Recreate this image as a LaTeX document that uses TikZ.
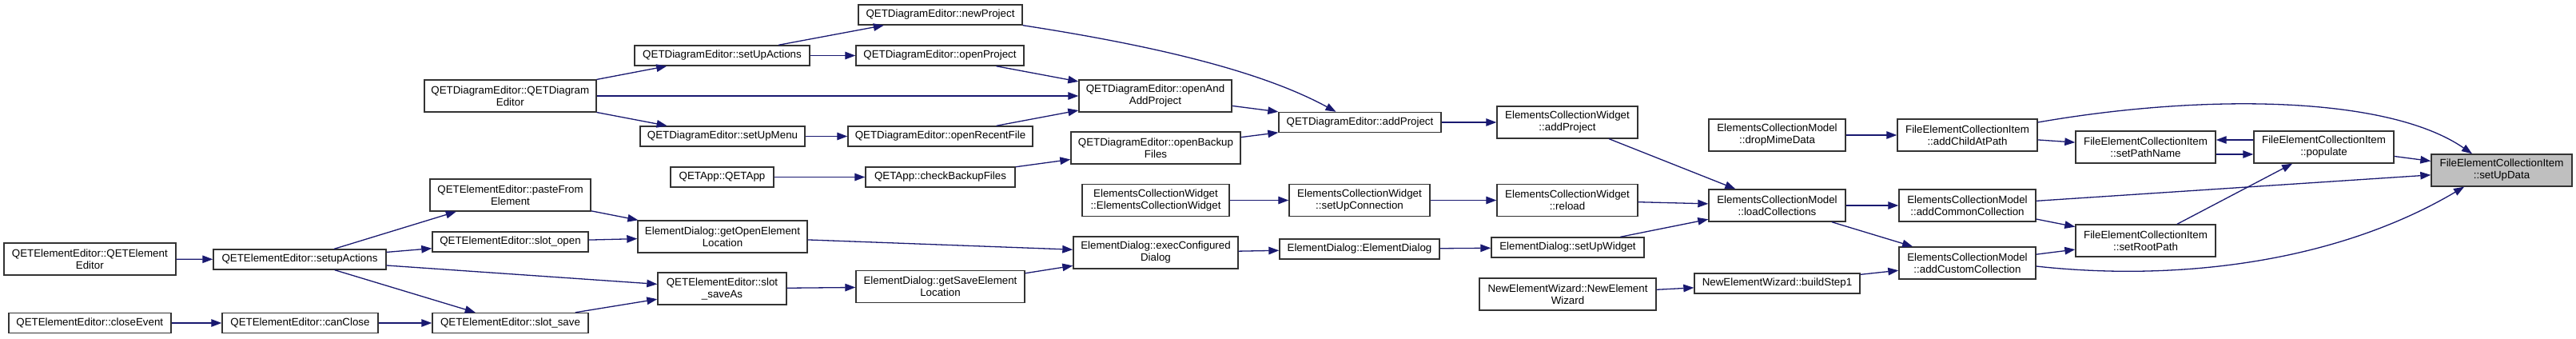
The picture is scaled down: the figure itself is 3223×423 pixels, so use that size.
\documentclass[tikz,border=0pt]{standalone}
\usepackage{fontspec}
\setmainfont{Liberation Sans}
\usetikzlibrary{arrows.meta}
\definecolor{edgeblue}{HTML}{191970}
\definecolor{boxgray}{HTML}{333333}
\definecolor{focusfill}{HTML}{BFBFBF}
\newcommand\dxfont{\fontsize{13.33}{15}\selectfont}
\tikzset{
  box/.style={draw=boxgray, fill=white, line width=1.4pt, inner sep=0pt, align=center, font=\dxfont, text=black},
  one/.style={box, minimum height=25pt},
  two/.style={box, minimum height=40pt},
  focus/.style={two, fill=focusfill},
  edge/.style={draw=edgeblue, line width=1.3pt, -{Triangle[length=13pt,width=9.5pt,fill=edgeblue]}},
}
\begin{document}
\begin{tikzpicture}[x=1pt,y=-1pt]
\useasboundingbox (0,0) rectangle (3223,423);
% column 1
\node[two, minimum width=215pt] (QEEctor) at (112.3,324) {QETElementEditor::QETElement\\Editor};
\node[one, minimum width=203pt] (QEEclose) at (112.3,404) {QETElementEditor::closeEvent};
% column 2
\node[one, minimum width=216pt] (QEEsetup) at (375,324.5) {QETElementEditor::setupActions};
\node[one, minimum width=195pt] (QEEcan) at (375.5,404) {QETElementEditor::canClose};
% column 3
\node[two, minimum width=215pt] (QDEctor) at (638.3,120) {QETDiagramEditor::QETDiagram\\Editor};
\node[two, minimum width=201pt] (QEEpaste) at (638.5,244) {QETElementEditor::pasteFrom\\Element};
\node[one, minimum width=195pt] (QEEopen) at (638.5,302.5) {QETElementEditor::slot\_open};
\node[one, minimum width=195pt] (QEEsave) at (638.5,404) {QETElementEditor::slot\_save};
% column 4
\node[one, minimum width=219pt] (QDEsetupAct) at (903.5,69.5) {QETDiagramEditor::setUpActions};
\node[one, minimum width=206pt] (QDEsetupMenu) at (904,170.5) {QETDiagramEditor::setUpMenu};
\node[one, minimum width=129pt] (APPctor) at (903.5,221.5) {QETApp::QETApp};
\node[two, minimum width=212pt] (EDgetOpen) at (904,296) {ElementDialog::getOpenElement\\Location};
\node[two, minimum width=161pt] (QEEsaveAs) at (903.5,361) {QETElementEditor::slot\\\_saveAs};
% column 5
\node[one, minimum width=205pt] (QDEnew) at (1176.5,18.5) {QETDiagramEditor::newProject};
\node[one, minimum width=210pt] (QDEopenProj) at (1176,69.5) {QETDiagramEditor::openProject};
\node[one, minimum width=231pt] (QDErecent) at (1176.5,170.5) {QETDiagramEditor::openRecentFile};
\node[one, minimum width=187pt] (APPcheck) at (1176.5,221.5) {QETApp::checkBackupFiles};
\node[two, minimum width=211pt] (EDgetSave) at (1176.5,358.5) {ElementDialog::getSaveElement\\Location};
% column 6
\node[two, minimum width=191pt] (QDEopenAdd) at (1445.5,120) {QETDiagramEditor::openAnd\\AddProject};
\node[two, minimum width=212pt] (QDEbackup) at (1446,185) {QETDiagramEditor::openBackup\\Files};
\node[two, minimum width=184pt] (ECWctor) at (1446,250.5) {ElementsCollectionWidget\\::ElementsCollectionWidget};
\node[two, minimum width=206pt] (EDexec) at (1446,316) {ElementDialog::execConfigured\\Dialog};
% column 7
\node[one, minimum width=203pt] (QDEadd) at (1701.5,153) {QETDiagramEditor::addProject};
\node[two, minimum width=176pt] (ECWconn) at (1701,250.5) {ElementsCollectionWidget\\::setUpConnection};
\node[one, minimum width=200pt] (EDctor) at (1701,311.5) {ElementDialog::ElementDialog};
% column 8
\node[two, minimum width=176pt] (ECWadd) at (1961,153) {ElementsCollectionWidget\\::addProject};
\node[two, minimum width=176pt] (ECWreload) at (1961,250.5) {ElementsCollectionWidget\\::reload};
\node[one, minimum width=191pt] (EDwidget) at (1961.5,309.5) {ElementDialog::setUpWidget};
\node[two, minimum width=221pt] (NEWctor) at (1961.5,368) {NewElementWizard::NewElement\\Wizard};
% column 9
\node[two, minimum width=171pt] (ECMdrop) at (2223.5,169) {ElementsCollectionModel\\::dropMimeData};
\node[two, minimum width=171pt] (ECMload) at (2223.5,257) {ElementsCollectionModel\\::loadCollections};
\node[one, minimum width=207pt] (NEWstep) at (2223.5,354.5) {NewElementWizard::buildStep1};
% column 10
\node[two, minimum width=175pt] (FECIchild) at (2461.5,169) {FileElementCollectionItem\\::addChildAtPath};
\node[two, minimum width=171pt] (ECMcommon) at (2461.5,257) {ElementsCollectionModel\\::addCommonCollection};
\node[two, minimum width=171pt] (ECMcustom) at (2461.5,329) {ElementsCollectionModel\\::addCustomCollection};
% column 11
\node[two, minimum width=175pt] (FECIpath) at (2684.5,184) {FileElementCollectionItem\\::setPathName};
\node[two, minimum width=175pt] (FECIroot) at (2684.5,301) {FileElementCollectionItem\\::setRootPath};
% column 12
\node[two, minimum width=175pt] (FECIpop) at (2907.5,184) {FileElementCollectionItem\\::populate};
% column 13
\node[focus, minimum width=176pt] (FECIdata) at (3130,213) {FileElementCollectionItem\\::setUpData};

% edges
\draw[edge] (QEEctor) -- (QEEsetup);
\draw[edge] (QEEclose) -- (QEEcan);
\draw[edge] (QEEsetup) -- (QEEpaste);
\draw[edge] (QEEsetup) -- (QEEopen);
\draw[edge] (QEEsetup) -- (QEEsaveAs);
\draw[edge] (QEEsetup) -- (QEEsave);
\draw[edge] (QEEcan) -- (QEEsave);
\draw[edge] (QEEpaste) -- (EDgetOpen);
\draw[edge] (QEEopen) -- (EDgetOpen);
\draw[edge] (QEEsave) -- (QEEsaveAs);
\draw[edge] (QEEsaveAs) -- (EDgetSave);
\draw[edge] (EDgetOpen) -- (EDexec);
\draw[edge] (EDgetSave) -- (EDexec);
\draw[edge] (EDexec) -- (EDctor);
\draw[edge] (EDctor) -- (EDwidget);
\draw[edge] (EDwidget) -- (ECMload);
\draw[edge] (ECWctor) -- (ECWconn);
\draw[edge] (ECWconn) -- (ECWreload);
\draw[edge] (ECWreload) -- (ECMload);
\draw[edge] (ECWadd) -- (ECMload);
\draw[edge] (QDEadd) -- (ECWadd);
\draw[edge] (QDEctor) -- (QDEsetupAct);
\draw[edge] (QDEctor) -- (QDEopenAdd);
\draw[edge] (QDEctor) -- (QDEsetupMenu);
\draw[edge] (QDEsetupAct) -- (QDEnew);
\draw[edge] (QDEsetupAct) -- (QDEopenProj);
\draw[edge] (QDEsetupMenu) -- (QDErecent);
\draw[edge] (QDEopenProj) -- (QDEopenAdd);
\draw[edge] (QDErecent) -- (QDEopenAdd);
\draw[edge] (QDEnew.south east) .. controls (1450,58) and (1580,90) .. ([xshift=-30pt]QDEadd.north);
\draw[edge] (QDEopenAdd) -- (QDEadd);
\draw[edge] (QDEbackup) -- (QDEadd);
\draw[edge] (APPctor) -- (APPcheck);
\draw[edge] (APPcheck) -- (QDEbackup);
\draw[edge] (ECMdrop) -- (FECIchild);
\draw[edge] (ECMload) -- (ECMcommon);
\draw[edge] (ECMload) -- (ECMcustom);
\draw[edge] (NEWctor) -- (NEWstep);
\draw[edge] (NEWstep) -- (ECMcustom);
\draw[edge] (FECIchild) -- (FECIpath);
\draw[edge] ([yshift=16pt]FECIchild.east) .. controls (2750,118) and (2985,118) .. ([xshift=-37pt]FECIdata.north);
\draw[edge] ([yshift=9pt]FECIpop.west) -- ([yshift=9pt]FECIpath.east);
\draw[edge] ([yshift=-9pt]FECIpath.east) -- ([yshift=-9pt]FECIpop.west);
\draw[edge] (FECIpop) -- (FECIdata);
\draw[edge] (ECMcommon) -- (FECIdata);
\draw[edge] (ECMcommon) -- (FECIroot);
\draw[edge] (ECMcustom) -- (FECIroot);
\draw[edge] ([yshift=-4pt]ECMcustom.east) .. controls (2720,352) and (2920,330) .. ([xshift=-47pt]FECIdata.south);
\draw[edge] (FECIroot) -- (FECIpop);
\end{tikzpicture}
\end{document}
